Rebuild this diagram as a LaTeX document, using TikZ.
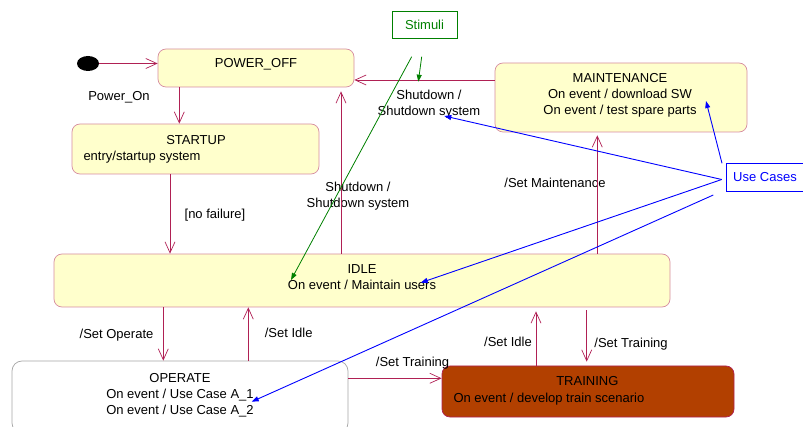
\documentclass[tikz,border=0pt]{standalone}
\usepackage{fontspec}
\setmainfont{Liberation Sans}
\usetikzlibrary{arrows.meta,shapes.geometric}
\definecolor{statefill}{RGB}{255,255,204}
\definecolor{stateline}{RGB}{214,140,160}
\definecolor{trans}{RGB}{176,32,84}
\definecolor{trainfill}{RGB}{178,64,0}
\definecolor{stimgreen}{RGB}{0,128,0}
\definecolor{ucblue}{RGB}{0,0,255}
\begin{document}
\begin{tikzpicture}[x=1pt,y=-1pt,
  every node/.style={font=\fontsize{13}{16}\selectfont},
  statebox/.style={draw=stateline,fill=statefill,rounded corners=8pt,line width=0.7pt,inner sep=0pt},
  txt/.style={inner sep=0pt,anchor=north,align=center},
  txtl/.style={inner sep=0pt,anchor=north west,align=left},
  tr/.style={draw=trans,line width=0.8pt,-{Straight Barb[length=11pt,width=10pt,line width=0.7pt]}},
  green/.style={draw=stimgreen,line width=0.8pt,-{Triangle[length=7pt,width=5pt]}},
  blue/.style={draw=ucblue,line width=0.9pt,-{Triangle[length=7pt,width=5pt]}}]
\useasboundingbox (0,0) rectangle (803,427);
\clip (0,0) rectangle (803,427);

% states
\node[statebox,minimum width=196pt,minimum height=38pt] (poweroff) at (256,68) {};
\node[statebox,minimum width=247pt,minimum height=50pt] (startup) at (195.5,149) {};
\node[statebox,minimum width=616pt,minimum height=53pt] (idle) at (362,280.5) {};
\node[statebox,minimum width=252pt,minimum height=69pt] (maint) at (621,97.5) {};
\node[draw=black!35,fill=white,rounded corners=10pt,line width=0.7pt,minimum width=336pt,minimum height=72pt] (operate) at (180,397) {};
\node[draw=trans,fill=trainfill,rounded corners=8pt,line width=0.7pt,minimum width=292pt,minimum height=51pt] (training) at (588,391.5) {};
\node[draw=stimgreen,line width=0.8pt,minimum width=65pt,minimum height=27pt,inner sep=0pt] (stimuli) at (424.5,24.5) {};
\node[draw=ucblue,line width=0.8pt,minimum width=90pt,minimum height=28pt,inner sep=0pt] (usecases) at (771,177) {};
\node[fill=black,ellipse,minimum width=22pt,minimum height=15pt,inner sep=0pt] (dot) at (88,63.5) {};

% state texts
\node[txt] (poweroff-t) at (256,58.6) {POWER\_OFF};
\node[txt] (startup-t) at (196,135.3) {STARTUP};
\node[txtl] (startup-e) at (83.3,151.3) {entry/startup system};
\node[txt] (idle-t) at (362,264.6) {IDLE\\On event / Maintain users};
\node[txt] (maint-t) at (620,73.6) {MAINTENANCE\\On event / download SW\\On event / test spare parts};
\node[txt] (operate-t) at (180,373.6) {OPERATE\\On event / Use Case A\_1\\On event / Use Case A\_2};
\node[txt] (training-t) at (587.3,376.3) {TRAINING};
\node[txtl] (training-e) at (453.3,393) {On event / develop train scenario};
\node[txt,text=stimgreen] (stimuli-t) at (424.5,19.8) {Stimuli};
\node[txt,text=ucblue] (usecases-t) at (765,172) {Use Cases};

% transition labels
\node[txt] (l-poweron) at (119,91.3) {Power\_On};
\node[txt] (l-nofail) at (215,209.3) {[no failure]};
\node[txt] (l-shut1) at (358,182) {Shutdown /\\Shutdown system};
\node[txt] (l-shut2) at (429,90.3) {Shutdown /\\Shutdown system};
\node[txt] (l-setmaint) at (555,178) {/Set Maintenance};
\node[txt] (l-setop) at (116.5,328.6) {/Set Operate};
\node[txt] (l-setidle1) at (288.7,328.3) {/Set Idle};
\node[txt] (l-settrain1) at (412.5,357) {/Set Training};
\node[txt] (l-setidle2) at (508,337) {/Set Idle};
\node[txt] (l-settrain2) at (631,338) {/Set Training};

% transitions
\draw[tr] (dot.east) -- (dot -| poweroff.west);
\draw[tr] (179.3,0 |- poweroff.south) -- (179.3,0 |- startup.north);
\draw[tr] (170,0 |- startup.south) -- (170,0 |- idle.north);
\draw[tr,shorten >=4pt] (341,0 |- idle.north) -- (341,0 |- poweroff.south);
\draw[tr] (0,80 -| maint.west) -- (0,80 -| poweroff.east);
\draw[tr,shorten >=3pt] (597.3,0 |- idle.north) -- (597.3,0 |- maint.south);
\draw[tr] (163.3,0 |- idle.south) -- (163.3,0 |- operate.north);
\draw[tr] (248.3,0 |- operate.north) -- (248.3,0 |- idle.south);
\draw[tr] (0,378.3 -| operate.east) -- (0,378.3 -| training.west);
\draw[tr,shorten >=4pt] (536,0 |- training.north) -- (536,0 |- idle.south);
\draw[tr,shorten <=3pt,shorten >=4pt] (586.7,0 |- idle.south) -- (586.7,0 |- training.north);

% stimuli links
\coordinate (g1s) at (411.7,56.7);
\coordinate (g1e) at (291,280);
\coordinate (g2s) at (421.7,56.7);
\coordinate (g2e) at (418.3,81.7);
\draw[green] (g1s) -- (g1e);
\draw[green] (g2s) -- (g2e);

% use case links
\coordinate (ucfan) at (721.7,179.5);
\coordinate (uctop) at (722,163.3);
\coordinate (ucbot) at (713.3,195);
\coordinate (b1e) at (706,101);
\coordinate (b2e) at (444.3,116);
\coordinate (b3e) at (420.7,282.7);
\coordinate (b4e) at (251.7,401.7);
\draw[blue] (uctop) -- (b1e);
\draw[blue] (ucfan) -- (b2e);
\draw[blue] (ucfan) -- (b3e);
\draw[blue] (ucbot) -- (b4e);
\end{tikzpicture}
\end{document}
